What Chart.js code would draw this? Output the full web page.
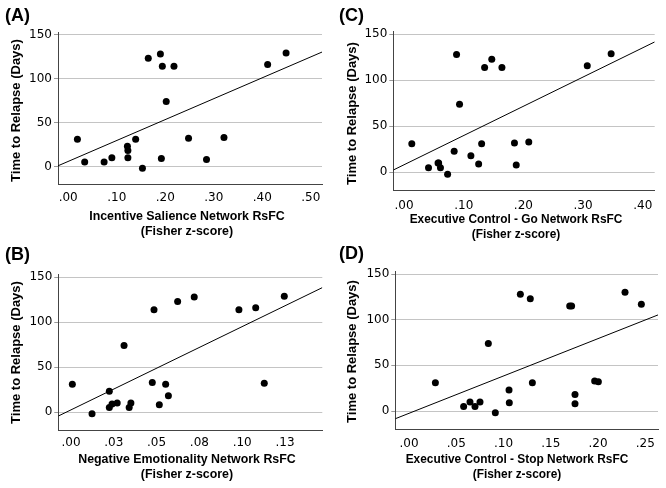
<!DOCTYPE html>
<html>
<head>
<meta charset="utf-8">
<script src="https://cdn.jsdelivr.net/npm/chart.js@4.4.1/dist/chart.umd.min.js"></script>
<style>
  html, body { margin: 0; padding: 0; background: #fff; }
  body { width: 666px; height: 488px; position: relative; overflow: hidden; }
  .panel { position: absolute; }
  .lab { position: absolute; font: bold 18px "Liberation Sans", Arial, sans-serif; color: #000; }
  .xt { position: absolute; width: 300px; text-align: center; line-height: 15px; white-space: nowrap;
        font-family: "Liberation Sans", Arial, sans-serif; font-weight: bold; color: #000; }
  .yt { position: absolute; width: 170px; height: 15px; text-align: center; line-height: 15px; white-space: nowrap;
        font: bold 13px "Liberation Sans", Arial, sans-serif; color: #000; transform: rotate(-90deg); }
</style>
</head>
<body>
<div class="panel" style="left:0;top:0;width:333px;height:240px"><canvas id="cA"></canvas></div>
<div class="panel" style="left:333px;top:0;width:333px;height:244px"><canvas id="cC"></canvas></div>
<div class="panel" style="left:0;top:240px;width:333px;height:248px"><canvas id="cB"></canvas></div>
<div class="panel" style="left:333px;top:240px;width:333px;height:248px"><canvas id="cD"></canvas></div>

<div class="lab" style="left:5px;top:5px">(A)</div>
<div class="lab" style="left:339px;top:5px">(C)</div>
<div class="lab" style="left:5px;top:244px">(B)</div>
<div class="lab" style="left:339px;top:243px">(D)</div>

<div class="yt" style="left:-70px;top:103px">Time to Relapse (Days)</div>
<div class="yt" style="left:266px;top:106px">Time to Relapse (Days)</div>
<div class="yt" style="left:-70px;top:345px">Time to Relapse (Days)</div>
<div class="yt" style="left:266px;top:344px">Time to Relapse (Days)</div>

<div class="xt" style="left:37px;top:209px;font-size:12.4px">Incentive Salience Network RsFC<br>(Fisher z-score)</div>
<div class="xt" style="left:366px;top:212px;font-size:11.9px">Executive Control - Go Network RsFC<br>(Fisher z-score)</div>
<div class="xt" style="left:37px;top:452px;font-size:12.4px">Negative Emotionality Network RsFC<br>(Fisher z-score)</div>
<div class="xt" style="left:367px;top:452px;font-size:11.9px">Executive Control - Stop Network RsFC<br>(Fisher z-score)</div>
<script>
// time to relapse (days), one value per participant, read per panel
const salienceX = [0.019, 0.034, 0.074, 0.090, 0.122, 0.123, 0.123, 0.139, 0.153, 0.165, 0.190, 0.194, 0.192, 0.202, 0.218, 0.248, 0.285, 0.321, 0.411, 0.449];
const salienceY = [31, 5, 5, 10, 23, 18, 10, 31, -2, 123, 128, 114, 9, 74, 114, 32, 8, 33, 116, 129];

const emotionX = [0.0008, 0.0123, 0.0224, 0.0224, 0.024, 0.027, 0.031, 0.034, 0.035, 0.0475, 0.0485, 0.0516, 0.0553, 0.0569, 0.0623, 0.072, 0.0981, 0.1079, 0.1129, 0.1246];
const emotionY = [31, -2, 23, 5, 9, 10, 74, 5, 10, 33, 114, 8, 31, 18, 123, 128, 114, 116, 32, 129];

const goX = [0.013, 0.041, 0.057, 0.058, 0.061, 0.073, 0.084, 0.088, 0.093, 0.112, 0.125, 0.130, 0.135, 0.147, 0.164, 0.185, 0.188, 0.209, 0.307, 0.347];
const goY = [31, 5, 10, 10, 5, -2, 23, 128, 74, 18, 9, 31, 114, 123, 114, 32, 8, 33, 116, 129];

const stopX = [0.0279, 0.0578, 0.0645, 0.0698, 0.0751, 0.0839, 0.0913, 0.1058, 0.1061, 0.1178, 0.1283, 0.1305, 0.170, 0.172, 0.1756, 0.1756, 0.1964, 0.2003, 0.2285, 0.2458];
const stopY = [31, 5, 10, 5, 10, 74, -2, 23, 9, 128, 123, 31, 115, 115, 18, 8, 33, 32, 130, 117];

// fit lines: [intercept, slope]
const fitA = [5.7, 238];
const fitB = [2.4, 927];
const fitC = [8.2, 318];
const fitD = [-2.5, 409];

const yTicks = [0, 50, 100, 150];
const xTicksA = [0, 0.1, 0.2, 0.3, 0.4, 0.5];
const xLabelsA = ['.00', '.10', '.20', '.30', '.40', '.50'];
const xTicksB = [0, 0.025, 0.05, 0.075, 0.1, 0.125];
const xLabelsB = ['.00', '.03', '.05', '.08', '.10', '.13'];
const xTicksC = [0, 0.1, 0.2, 0.3, 0.4];
const xLabelsC = ['.00', '.10', '.20', '.30', '.40'];
const xTicksD = [0, 0.05, 0.1, 0.15, 0.2, 0.25];
const xLabelsD = ['.00', '.05', '.10', '.15', '.20', '.25'];

const tickFont = { family: '"DejaVu Sans", Verdana, sans-serif', size: 12 };

function panel(id, xs, ys, fit, xMin, xMax, xTicks, xLabels, g) {
  const pts = xs.map((x, i) => ({ x: x, y: ys[i] }));
  const line = [xMin, xMax].map(x => ({ x: x, y: fit[0] + fit[1] * x }));
  new Chart(document.getElementById(id), {
    type: 'scatter',
    data: {
      datasets: [
        { data: pts, pointRadius: 3.5, pointHoverRadius: 3.5, backgroundColor: '#000', borderWidth: 0 },
        { type: 'line', data: line, borderColor: '#000', borderWidth: 1, pointRadius: 0, fill: false }
      ]
    },
    options: {
      responsive: true,
      maintainAspectRatio: false,
      animation: false,
      events: [],
      layout: { padding: { left: 0, top: g.top, right: g.right, bottom: 0 } },
      plugins: { legend: { display: false }, tooltip: { enabled: false } },
      scales: {
        x: {
          type: 'linear', min: xMin, max: xMax,
          afterBuildTicks: s => { s.ticks = xTicks.map(v => ({ value: v })); },
          afterFit: s => { s.height = g.xh; },
          grid: { display: false, drawTicks: false },
          border: { display: true, color: '#444', width: 1 },
          ticks: { font: tickFont, color: '#000', padding: g.xpad, maxRotation: 0,
                   callback: (v, i) => xLabels[i] }
        },
        y: {
          type: 'linear', min: -20, max: 153,
          afterBuildTicks: s => { s.ticks = yTicks.map(v => ({ value: v })); },
          afterFit: s => { s.width = g.yw; },
          grid: { color: '#c4c4c4', lineWidth: 1, drawTicks: true, tickLength: 4, tickColor: '#999' },
          border: { display: true, color: '#444', width: 1 },
          ticks: { font: tickFont, color: '#000', padding: 2 }
        }
      }
    }
  });
}

panel('cA', salienceX, salienceY, fitA, -0.021, 0.523, xTicksA, xLabelsA,
  { top: 32, right: 11, xh: 56, yw: 58, xpad: 7 });
panel('cC', goX, goY, fitC, -0.018, 0.42, xTicksC, xLabelsC,
  { top: 31.6, right: 11.3, xh: 53.3, yw: 60.3, xpad: 8 });
panel('cB', emotionX, emotionY, fitB, -0.0074, 0.1468, xTicksB, xLabelsB,
  { top: 34.6, right: 10.7, xh: 58, yw: 58.3, xpad: 6 });
panel('cD', stopX, stopY, fitD, -0.0145, 0.2634, xTicksD, xLabelsD,
  { top: 31.3, right: 8, xh: 58.7, yw: 62.3, xpad: 7 });
</script>
</body>
</html>
